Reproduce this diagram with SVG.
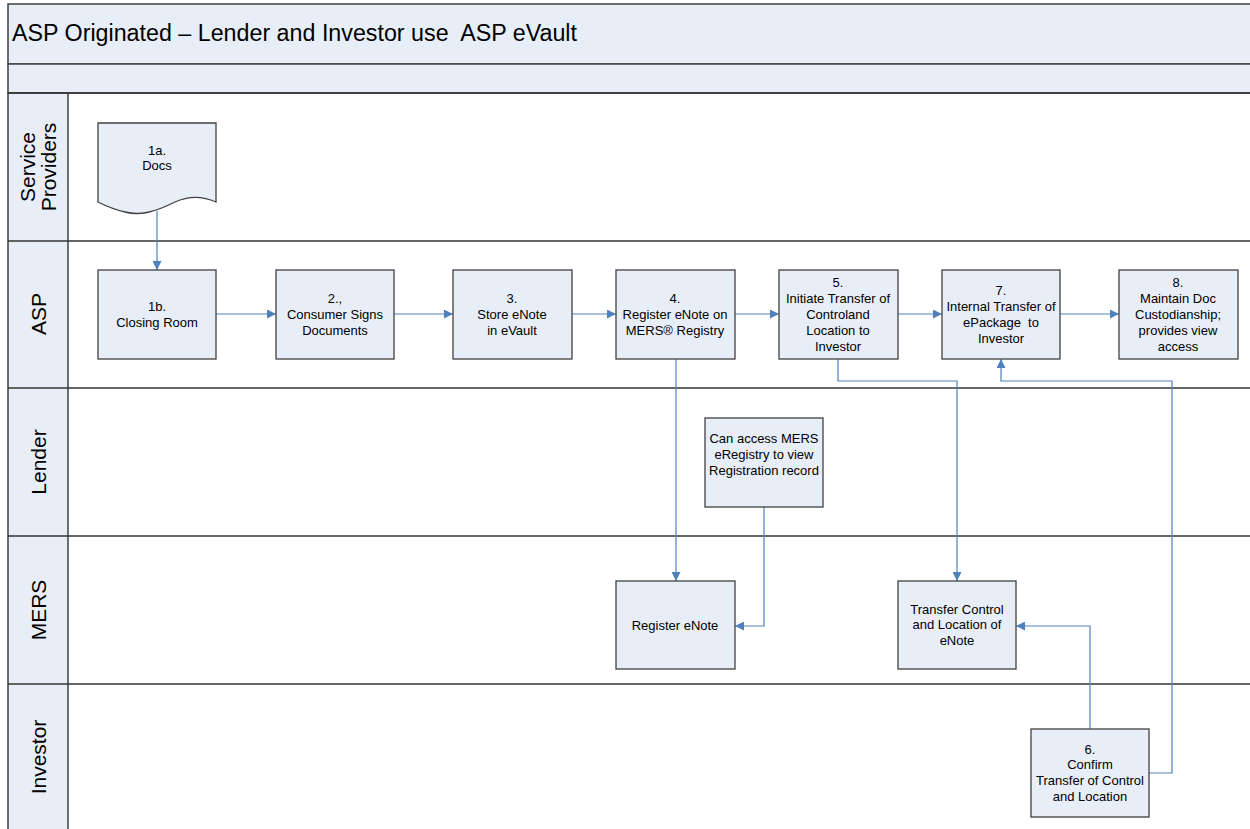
<svg xmlns="http://www.w3.org/2000/svg" width="1250" height="829" viewBox="0 0 1250 829">
<style>
  .band{fill:#E8EEF7;stroke:#404040;stroke-width:1.5}
  .lane{fill:none;stroke:#333;stroke-width:1.5}
  .box{fill:#E8EEF8;stroke:#404040;stroke-width:1.3}
  .t{font-family:"Liberation Sans",Arial,sans-serif;font-size:13px;fill:#000;text-anchor:middle;white-space:pre}
  .lbl{font-family:"Liberation Sans",Arial,sans-serif;font-size:21px;fill:#000;text-anchor:middle}
  .title{font-family:"Liberation Sans",Arial,sans-serif;font-size:23px;fill:#000;white-space:pre}
  .c{fill:none;stroke:#4F81BD;stroke-width:1.2}
</style>
<defs>
  <marker id="arr" viewBox="0 0 10 10" refX="10" refY="5" markerWidth="9" markerHeight="9" markerUnits="userSpaceOnUse" orient="auto">
    <path d="M0,0 L10,5 L0,10 z" fill="#4F81BD"/>
  </marker>
</defs>
<rect x="0" y="0" width="1250" height="829" fill="#fff"/>
<g id="frame">
  <rect class="band" x="8" y="4" width="1250" height="60"/>
  <rect class="band" x="8" y="64" width="1250" height="29"/>
  <text class="title" x="12" y="41" xml:space="preserve" textLength="565" lengthAdjust="spacingAndGlyphs">ASP Originated – Lender and Investor use  ASP eVault</text>
  <rect class="band" x="8" y="93" width="60" height="740"/>
  <line class="lane" x1="8" y1="93" x2="1250" y2="93"/>
  <line class="lane" x1="8" y1="241" x2="1250" y2="241"/>
  <line class="lane" x1="8" y1="388" x2="1250" y2="388"/>
  <line class="lane" x1="8" y1="536" x2="1250" y2="536"/>
  <line class="lane" x1="8" y1="684" x2="1250" y2="684"/>
  <text class="lbl" transform="translate(35,167) rotate(-90)"><tspan x="0" y="0">Service</tspan><tspan x="0" y="21">Providers</tspan></text>
  <text class="lbl" transform="translate(46,314) rotate(-90)">ASP</text>
  <text class="lbl" transform="translate(46,462) rotate(-90)">Lender</text>
  <text class="lbl" transform="translate(46,610) rotate(-90)">MERS</text>
  <text class="lbl" transform="translate(46,757) rotate(-90)">Investor</text>
</g>
<g id="connectors">
  <path class="c" d="M157,211 L157,270" marker-end="url(#arr)"/>
  <path class="c" d="M216,314 L276,314" marker-end="url(#arr)"/>
  <path class="c" d="M394,314 L453,314" marker-end="url(#arr)"/>
  <path class="c" d="M572,314 L616,314" marker-end="url(#arr)"/>
  <path class="c" d="M735,314 L779,314" marker-end="url(#arr)"/>
  <path class="c" d="M898,314 L942,314" marker-end="url(#arr)"/>
  <path class="c" d="M1060,314 L1119,314" marker-end="url(#arr)"/>
  <path class="c" d="M676,359 L676,581" marker-end="url(#arr)"/>
  <path class="c" d="M764,507 L764,626 L735,626" marker-end="url(#arr)"/>
  <path class="c" d="M838,359 L838,381 L957,381 L957,581" marker-end="url(#arr)"/>
  <path class="c" d="M1090,729 L1090,626 L1016,626" marker-end="url(#arr)"/>
  <path class="c" d="M1149,773 L1172,773 L1172,381 L1001,381 L1001,359" marker-end="url(#arr)"/>
</g>
<g id="n1a">
  <path class="box" d="M98,123 L216,123 L216,202 C205,197 190,195 175,202 C155,212 140,216 125,212 C112,209 104,205 98,202 Z"/>
  <text class="t" x="157" y="155">1a.</text>
  <text class="t" x="157" y="170">Docs</text>
</g>
<g id="n1b">
  <rect class="box" x="98" y="270" width="118" height="89"/>
  <text class="t" x="157" y="311">1b.</text>
  <text class="t" x="157" y="327">Closing Room</text>
</g>
<g id="n2">
  <rect class="box" x="276" y="270" width="118" height="89"/>
  <text class="t" x="335" y="303">2.,</text>
  <text class="t" x="335" y="319">Consumer Signs</text>
  <text class="t" x="335" y="335">Documents</text>
</g>
<g id="n3">
  <rect class="box" x="453" y="270" width="119" height="89"/>
  <text class="t" x="512" y="303">3.</text>
  <text class="t" x="512" y="319">Store eNote</text>
  <text class="t" x="512" y="335">in eVault</text>
</g>
<g id="n4">
  <rect class="box" x="616" y="270" width="119" height="89"/>
  <text class="t" x="675" y="303">4.</text>
  <text class="t" x="675" y="319">Register eNote on</text>
  <text class="t" x="675" y="335">MERS® Registry</text>
</g>
<g id="n5">
  <rect class="box" x="779" y="270" width="119" height="89"/>
  <text class="t" x="838" y="287">5.</text>
  <text class="t" x="838" y="303">Initiate Transfer of</text>
  <text class="t" x="838" y="319">Controland</text>
  <text class="t" x="838" y="335">Location to</text>
  <text class="t" x="838" y="351">Investor</text>
</g>
<g id="n7">
  <rect class="box" x="942" y="270" width="118" height="89"/>
  <text class="t" x="1001" y="295">7.</text>
  <text class="t" x="1001" y="311">Internal Transfer of</text>
  <text class="t" x="1001" y="327" xml:space="preserve">ePackage  to</text>
  <text class="t" x="1001" y="343">Investor</text>
</g>
<g id="n8">
  <rect class="box" x="1119" y="270" width="119" height="89"/>
  <text class="t" x="1178" y="287">8.</text>
  <text class="t" x="1178" y="303">Maintain Doc</text>
  <text class="t" x="1178" y="319">Custodianship;</text>
  <text class="t" x="1178" y="335">provides view</text>
  <text class="t" x="1178" y="351">access</text>
</g>
<g id="nLender">
  <rect class="box" x="705" y="418" width="118" height="89"/>
  <text class="t" x="764" y="443">Can access MERS</text>
  <text class="t" x="764" y="459">eRegistry to view</text>
  <text class="t" x="764" y="475">Registration record</text>
</g>
<g id="nRegister">
  <rect class="box" x="616" y="581" width="119" height="88"/>
  <text class="t" x="675" y="630">Register eNote</text>
</g>
<g id="nTransfer">
  <rect class="box" x="898" y="581" width="118" height="88"/>
  <text class="t" x="957" y="614">Transfer Control</text>
  <text class="t" x="957" y="629">and Location of</text>
  <text class="t" x="957" y="645">eNote</text>
</g>
<g id="n6">
  <rect class="box" x="1031" y="729" width="118" height="88"/>
  <text class="t" x="1090" y="754">6.</text>
  <text class="t" x="1090" y="769">Confirm</text>
  <text class="t" x="1090" y="785">Transfer of Control</text>
  <text class="t" x="1090" y="801">and Location</text>
</g>
</svg>
